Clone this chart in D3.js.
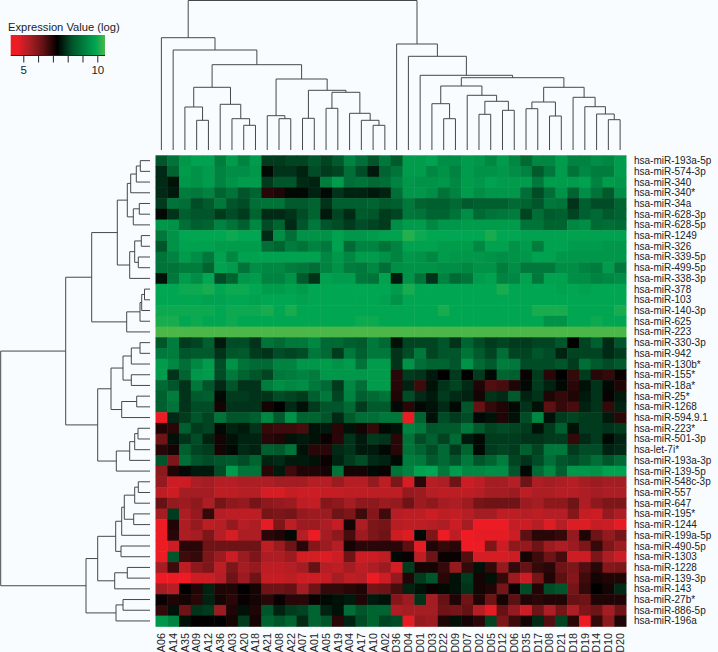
<!DOCTYPE html>
<html>
<head>
<meta charset="utf-8">
<script src="https://cdnjs.cloudflare.com/ajax/libs/d3/7.8.5/d3.min.js"></script>
<style>
    html, body { margin: 0; padding: 0; background: #f8fcff; overflow: hidden; }
    text { font-family: "Liberation Sans", Arial, sans-serif; fill: #222; }
</style>
</head>
<body>
<div id="chart-area"></div>
<script>
// =====================================================
// miRNA expression heatmap with row and column dendrograms
// =====================================================

const samples = ['A06','A14','A35','A09','A12','A36','A03','A20','A18','A21','A08','A22','A07','A01','A05','A19','A04','A17','A10','A02',
    'D36','D04','D01','D03','D22','D09','D07','D02','D05','D12','D06','D35','D17','D08','D21','D18','D19','D14','D10','D20'];

const miRNAs = ['hsa-miR-193a-5p','hsa-miR-574-3p','hsa-miR-340','hsa-miR-340*','hsa-miR-34a','hsa-miR-628-3p','hsa-miR-628-5p','hsa-miR-1249',
    'hsa-miR-326','hsa-miR-339-5p','hsa-miR-499-5p','hsa-miR-338-3p','hsa-miR-378','hsa-miR-103','hsa-miR-140-3p','hsa-miR-625','hsa-miR-223',
    'hsa-miR-330-3p','hsa-miR-942','hsa-miR-130b*','hsa-miR-155*','hsa-miR-18a*','hsa-miR-25*','hsa-miR-1268','hsa-miR-594.9.1','hsa-miR-223*',
    'hsa-miR-501-3p','hsa-let-7i*','hsa-miR-193a-3p','hsa-miR-139-5p','hsa-miR-548c-3p','hsa-miR-557','hsa-miR-647','hsa-miR-195*','hsa-miR-1244',
    'hsa-miR-199a-5p','hsa-miR-490-5p','hsa-miR-1303','hsa-miR-1228','hsa-miR-139-3p','hsa-miR-143','hsa-miR-27b*','hsa-miR-886-5p','hsa-miR-196a'];

// log expression, one list per miRNA, same order as samples
const r01 = [8.3,8.9,9.6,9.8,9.8,9.1,9.7,9.2,9.7,8.0,8.0,8.1,8.1,8.3,8.1,8.4,9.2,8.8,8.3,9.0, 8.4,9.7,9.7,9.8,9.4,9.4,9.7,9.6,9.3,9.7,9.3,8.7,9.3,9.3,9.7,9.2,9.2,9.4,9.3,9.7];
const r02 = [7.8,8.6,9.7,9.5,9.7,9.2,9.4,9.4,9.6,7.4,7.9,7.9,7.7,8.2,8.0,8.1,8.8,8.2,7.6,8.6, 8.9,9.7,9.7,9.3,9.5,9.2,9.7,9.5,9.5,9.6,9.4,9.2,8.4,9.0,9.7,8.9,9.3,9.1,9.1,9.7];
const r03 = [7.8,7.5,9.6,9.5,9.7,9.2,9.5,9.7,9.7,8.0,8.3,8.3,7.8,7.7,9.1,9.7,8.8,8.9,8.7,8.8, 9.2,9.6,9.5,9.5,9.6,9.3,9.7,9.6,9.8,9.7,9.7,9.7,9.0,9.7,9.7,9.7,9.8,9.2,9.7,9.6];
const r04 = [7.8,7.6,9.1,9.0,9.2,8.6,8.9,8.3,8.6,6.9,7.0,7.4,7.4,7.7,7.4,7.9,7.7,7.7,7.6,7.7, 8.8,9.6,9.6,9.4,8.9,9.2,9.7,9.4,9.6,9.6,9.6,8.8,8.2,8.8,9.5,8.6,9.4,8.9,8.4,9.4];
const r05 = [8.0,8.9,8.8,8.2,8.4,9.0,8.3,8.2,8.8,8.9,8.9,8.4,8.4,8.6,7.9,8.5,8.5,8.5,8.6,8.4, 8.5,9.0,8.6,8.5,8.5,8.7,8.4,8.5,8.5,8.5,8.7,8.6,8.3,9.0,8.9,7.9,8.5,8.2,8.2,8.6];
const r06 = [7.4,7.9,8.5,8.3,8.3,8.0,8.2,8.0,8.6,7.8,7.8,7.9,8.2,8.6,7.6,8.1,7.8,8.4,8.3,8.0, 8.1,9.0,8.9,8.6,8.6,8.9,9.4,8.7,8.9,9.0,9.1,8.1,8.8,8.4,8.5,8.1,8.5,8.7,8.4,8.6];
const r07 = [9.6,9.5,8.8,8.5,8.6,9.2,8.9,8.5,9.3,8.2,8.6,7.8,8.3,9.0,8.3,8.2,8.0,8.2,8.1,8.0, 9.4,9.7,9.7,9.3,9.6,9.6,9.7,9.7,9.7,9.7,9.7,8.9,8.9,8.6,8.6,9.3,9.4,8.7,8.8,8.7];
const r08 = [9.0,9.5,9.9,9.9,9.9,9.9,10.0,9.9,9.9,7.8,9.4,8.8,9.5,9.5,9.5,9.8,9.6,9.6,9.7,9.8, 9.8,10.2,10.0,9.9,9.9,9.9,9.9,9.9,10.1,9.9,9.9,9.8,9.8,9.8,9.8,9.8,9.8,9.8,9.8,9.8];
const r09 = [8.3,9.5,9.8,9.8,9.8,9.7,9.7,9.7,9.7,8.8,8.6,9.1,8.9,9.2,9.0,9.8,8.7,9.2,9.2,8.9, 9.2,9.8,9.8,9.8,9.7,9.7,9.7,9.3,9.8,9.8,9.5,9.7,9.1,9.8,9.8,9.7,9.7,9.7,9.6,9.6];
const r10 = [8.9,9.2,9.7,9.4,9.0,9.8,9.3,9.8,9.8,9.8,9.8,9.8,9.8,9.8,9.3,9.6,9.3,9.7,9.7,9.5, 9.2,9.6,9.5,9.3,9.7,9.6,9.6,9.6,9.5,9.4,9.5,9.6,9.8,9.8,9.6,9.6,9.6,9.6,9.6,9.6];
const r11 = [8.9,8.9,9.1,9.1,8.6,9.8,9.7,8.9,9.4,9.3,9.3,9.1,9.0,8.8,9.2,9.5,9.1,9.0,9.3,8.8, 9.4,9.5,9.5,9.5,9.4,9.4,9.3,9.5,9.5,9.1,9.4,9.0,9.0,9.0,9.4,9.4,9.2,9.1,9.7,9.0];
const r12 = [7.5,9.0,9.7,9.4,9.9,8.2,8.6,9.6,9.7,9.2,9.2,9.5,8.4,7.9,9.8,9.7,9.7,9.0,8.9,9.8, 7.6,9.5,8.9,7.9,9.2,8.7,8.9,9.7,9.8,9.2,9.3,9.8,9.0,9.8,9.8,9.4,9.4,9.2,9.3,9.4];
const r13 = [9.9,9.9,10.0,10.0,10.1,9.9,10.0,10.0,9.9,9.7,9.7,9.8,9.7,9.9,9.9,9.9,9.9,9.9,9.9,9.9, 9.7,10.1,9.9,9.9,9.9,9.9,9.9,9.9,9.9,10.1,9.9,9.9,9.9,9.9,9.8,9.9,9.8,9.9,9.9,9.9];
const r14 = [9.9,9.9,9.9,9.9,9.8,9.8,9.9,9.9,9.8,9.9,9.9,9.9,9.8,9.9,9.9,9.9,9.9,9.9,9.9,9.8, 9.5,9.9,9.9,9.9,9.9,9.9,9.9,9.9,9.9,9.9,9.9,9.9,9.9,9.9,9.9,9.9,9.9,9.9,9.9,9.9];
const r15 = [10.0,10.0,10.0,10.0,10.0,9.9,10.0,10.0,10.0,10.1,9.9,10.1,9.9,9.9,9.9,9.9,9.9,9.9,9.9,9.9, 9.9,9.9,9.9,9.9,10.1,9.9,9.9,9.9,9.9,9.9,9.9,9.9,10.1,10.1,10.1,9.9,9.9,9.9,9.9,10.1];
const r16 = [10.1,10.1,9.9,10.0,9.9,9.9,10.0,9.9,9.9,9.9,9.9,9.9,9.9,9.9,9.9,9.9,9.9,10.0,10.0,9.9, 9.9,9.9,9.9,9.9,9.9,9.9,9.9,9.9,9.9,9.9,9.9,9.9,9.9,9.5,9.5,9.9,9.9,10.0,9.9,9.9];
const r17 = [10.5,10.5,10.5,10.5,10.5,10.5,10.5,10.5,10.5,10.5,10.5,10.5,10.5,10.5,10.5,10.5,10.5,10.5,10.5,10.5, 10.5,10.5,10.5,10.5,10.5,10.5,10.5,10.5,10.5,10.5,10.5,10.5,10.5,10.5,10.5,10.5,10.5,10.5,10.5,10.5];
const r18 = [8.3,9.1,8.0,8.1,8.5,7.6,8.2,8.2,7.9,8.9,8.7,9.0,9.0,9.3,8.7,8.7,8.5,8.4,9.0,8.7, 7.5,8.1,8.1,8.1,8.3,7.9,8.6,8.2,8.0,8.1,8.0,8.0,8.1,8.1,8.3,7.3,8.1,8.5,7.8,8.3];
const r19 = [9.0,9.1,8.3,8.4,8.4,7.9,8.3,8.4,8.0,7.9,8.2,8.1,8.2,9.0,8.7,8.0,9.0,8.5,9.0,9.0, 7.9,8.2,9.0,8.1,8.3,8.3,8.9,8.4,8.1,8.8,8.1,8.1,8.3,8.2,7.7,8.1,8.1,8.1,7.8,8.0];
const r20 = [9.7,9.3,8.8,9.3,9.7,8.2,9.5,8.9,8.7,8.7,9.2,9.2,9.6,9.6,9.7,9.5,9.7,8.9,9.7,9.7, 7.9,9.5,8.8,8.6,8.6,8.3,9.5,8.7,8.4,9.1,9.0,8.2,8.2,8.2,8.3,8.0,8.8,8.4,8.2,8.4];
const r21 = [9.7,7.9,8.6,9.6,9.7,8.2,9.0,8.6,8.3,8.1,9.0,9.1,9.2,9.1,9.6,9.6,9.6,9.6,9.7,9.7, 6.9,8.0,7.9,7.6,7.3,8.0,7.3,8.0,7.4,8.6,8.5,7.2,8.0,6.9,7.3,6.8,8.0,6.9,6.8,7.2];
const r22 = [8.7,8.3,7.9,9.0,8.3,7.8,8.3,7.9,7.9,9.1,9.4,9.3,9.4,9.0,8.7,8.0,9.3,8.8,9.7,9.7, 6.9,7.7,6.7,7.5,7.9,8.1,7.8,7.0,6.5,6.6,7.0,7.4,8.0,7.7,7.4,6.9,7.5,7.9,7.4,7.0];
const r23 = [8.5,9.1,7.9,8.4,8.5,7.4,8.0,8.0,7.9,7.9,8.2,8.1,8.0,8.5,9.0,8.1,9.2,8.5,8.7,8.9, 7.0,8.2,7.8,7.6,8.0,7.8,7.7,7.1,7.9,7.8,8.4,7.7,7.9,7.0,6.8,7.0,7.6,7.9,7.2,7.6];
const r24 = [8.5,8.9,7.9,8.2,8.2,7.1,7.9,7.9,7.9,7.1,7.3,7.8,7.5,8.0,8.3,8.3,8.7,8.0,8.4,8.4, 7.4,6.9,7.4,7.5,7.8,7.4,8.3,6.3,6.8,7.0,7.4,7.9,7.5,6.4,6.8,6.6,7.7,7.9,6.8,7.7];
const r25 = [4.4,7.8,8.0,8.3,8.1,8.9,8.3,8.3,8.5,9.3,8.4,9.5,8.6,8.6,8.3,7.8,8.4,8.8,8.8,9.0, 9.0,4.6,8.6,7.5,8.2,8.0,8.2,7.4,7.5,7.0,7.5,8.2,9.3,7.5,8.0,8.1,8.0,8.0,7.6,6.9];
const r26 = [7.0,6.9,8.5,8.0,8.1,7.4,7.7,7.6,7.9,6.8,6.7,6.7,6.6,7.5,7.6,6.9,7.5,7.1,6.8,7.4, 7.5,9.2,9.0,8.3,8.4,8.4,9.0,8.4,8.1,8.2,8.1,8.0,7.5,8.0,8.5,7.5,8.0,8.0,7.9,8.0];
const r27 = [6.2,7.5,7.9,8.2,7.7,7.1,7.5,7.7,7.7,6.9,7.0,7.5,7.6,7.5,7.2,6.9,7.9,7.6,8.0,7.9, 6.9,8.9,8.2,8.5,8.1,8.7,7.6,7.4,8.0,8.0,8.0,7.9,7.9,8.0,8.0,6.8,7.8,8.0,7.4,7.7];
const r28 = [6.9,7.1,8.5,8.1,8.0,7.1,7.4,7.8,7.7,8.5,8.4,8.9,7.5,6.9,6.9,7.8,7.9,7.6,7.6,7.4, 6.9,8.9,8.6,8.2,8.7,8.0,8.6,7.4,8.0,8.1,8.0,8.5,8.1,9.0,9.0,8.0,8.2,8.2,7.7,7.8];
const r29 = [8.3,6.0,8.8,8.3,8.2,8.3,8.4,8.2,8.6,7.7,7.8,7.6,7.6,7.5,7.2,7.7,8.0,8.2,7.8,7.7, 7.4,9.1,9.0,8.4,8.7,8.3,9.0,8.3,8.6,9.1,8.1,7.9,8.2,8.8,8.3,8.2,8.4,8.8,8.3,8.7];
const r30 = [5.8,7.0,7.4,7.6,7.6,8.2,9.7,8.9,8.9,6.9,7.6,6.7,7.0,7.0,7.1,8.9,7.1,7.1,7.4,7.2, 8.9,9.2,9.8,9.9,9.0,9.7,9.3,9.3,9.4,9.4,8.3,7.4,8.7,9.3,8.5,9.6,9.6,9.5,9.8,9.8];
const r31 = [5.7,5.0,5.0,5.4,5.5,5.3,5.3,5.4,5.4,5.4,5.5,5.5,5.5,5.3,5.3,5.6,5.3,5.3,5.7,5.2, 6.0,4.9,6.9,5.3,5.4,6.2,5.0,5.2,5.5,5.5,5.3,6.2,5.4,5.5,5.4,5.3,5.5,5.6,5.5,5.5];
const r32 = [5.2,5.0,5.5,5.5,5.5,5.2,5.2,5.3,5.3,4.9,4.9,5.1,5.0,5.0,5.1,5.1,5.2,5.2,5.2,5.2, 5.2,5.7,5.6,5.3,5.2,5.2,5.2,5.3,5.5,5.5,5.6,5.2,5.4,5.4,5.3,5.3,5.4,5.5,5.4,5.4];
const r33 = [6.3,5.7,5.6,5.8,5.4,6.1,5.8,5.7,6.1,5.8,5.7,5.6,5.2,5.1,5.9,5.8,5.5,5.8,5.8,5.6, 5.7,6.2,5.6,5.8,5.5,5.4,5.6,6.1,6.2,6.2,6.2,5.6,5.5,5.8,5.8,6.2,5.4,5.8,6.0,6.0];
const r34 = [5.5,8.0,5.4,5.7,6.8,5.3,5.2,5.2,5.2,6.1,6.0,6.1,5.7,5.6,5.6,6.2,6.0,6.7,5.9,6.7, 5.3,5.2,5.2,5.0,5.2,5.1,5.3,5.5,5.5,5.2,5.2,5.3,5.2,5.3,5.3,5.9,5.1,5.0,5.7,5.4];
const r35 = [4.5,7.0,5.4,5.7,5.2,5.3,5.7,5.3,5.4,4.7,6.0,5.2,5.6,5.6,5.4,5.1,7.1,5.4,6.0,6.1, 5.3,5.2,5.2,5.3,5.4,5.0,5.5,4.6,4.6,4.6,5.1,5.0,5.3,4.8,5.3,4.8,4.8,5.1,5.0,4.7];
const r36 = [4.5,6.9,5.4,5.5,6.0,5.3,4.9,5.4,5.4,6.9,7.0,7.4,5.3,4.6,5.5,5.8,6.6,5.6,6.0,6.2, 5.0,4.8,7.4,6.0,4.6,5.2,4.6,4.7,4.7,4.7,5.0,6.4,6.9,6.9,6.8,5.7,7.0,6.2,5.7,6.1];
const r37 = [4.6,5.0,6.9,6.9,6.2,6.2,6.2,6.2,6.2,5.2,5.6,6.2,6.9,5.9,5.6,5.3,7.1,6.9,6.9,6.9, 6.9,6.4,4.7,7.0,6.8,6.9,4.6,4.6,6.0,5.0,5.8,5.7,6.2,5.6,5.4,5.6,6.0,6.8,6.0,5.6];
const r38 = [4.6,8.3,6.7,6.8,6.0,5.6,5.0,5.6,6.0,5.4,5.4,5.6,4.9,4.9,4.8,5.0,6.2,5.0,5.0,5.2, 7.4,7.2,5.2,6.2,7.2,7.2,6.5,4.9,4.9,4.9,5.0,7.1,6.7,6.2,6.6,5.0,5.0,6.0,5.4,5.0];
const r39 = [5.5,6.7,5.2,5.8,6.0,5.2,6.0,5.5,5.7,5.2,5.2,5.3,5.5,6.3,5.3,5.2,5.5,5.2,5.4,5.6, 4.9,8.0,7.1,7.1,6.8,5.7,6.8,7.5,6.8,5.7,6.8,6.3,6.8,6.9,6.2,6.0,6.5,6.9,5.9,6.0];
const r40 = [4.6,4.5,4.5,5.0,5.0,5.3,6.2,5.6,6.2,5.1,5.1,5.2,5.0,5.0,5.1,5.5,5.2,5.3,4.6,5.0, 5.7,7.0,8.0,8.3,6.9,7.5,8.0,7.1,7.5,6.8,5.6,5.0,6.1,7.0,6.4,5.9,6.7,7.1,7.0,7.0];
const r41 = [5.5,5.3,7.3,7.0,7.7,7.0,7.0,7.3,7.1,6.2,6.2,6.3,5.5,6.2,6.8,6.8,6.9,7.0,6.1,6.2, 6.6,7.7,7.5,7.2,7.4,7.5,7.9,7.1,7.0,6.1,7.2,8.2,7.0,8.2,8.3,6.1,6.8,7.3,7.1,7.8];
const r42 = [7.2,7.0,7.1,6.9,7.7,7.1,6.9,7.2,7.1,6.9,7.2,6.9,6.9,7.2,7.4,7.5,7.6,7.0,7.6,7.5, 5.9,5.6,7.9,5.5,6.3,7.0,6.2,7.0,6.2,7.1,6.4,7.0,6.9,7.0,7.0,6.3,6.2,7.0,7.0,7.0];
const r43 = [6.8,7.5,6.2,7.9,8.0,5.6,7.0,7.5,7.0,8.3,7.7,8.0,8.1,8.6,7.7,7.5,8.8,8.3,8.6,8.6, 5.4,5.5,5.5,5.5,6.2,6.1,6.3,5.3,4.7,6.3,5.7,5.0,6.2,5.4,6.1,5.4,6.0,6.2,5.5,6.2];
const r44 = [9.6,9.2,7.5,7.3,7.3,7.3,7.1,8.0,7.1,8.6,8.3,8.6,7.8,8.6,8.3,6.9,7.7,8.2,8.6,8.1, 8.2,4.7,5.7,5.6,7.0,7.5,7.1,6.9,8.1,6.0,6.7,7.1,7.8,6.5,8.1,6.9,4.5,6.8,5.8,7.0];

const expression = [r01,r02,r03,r04,r05,r06,r07,r08,r09,r10,r11,r12,r13,r14,r15,r16,r17,r18,r19,r20,r21,r22,
    r23,r24,r25,r26,r27,r28,r29,r30,r31,r32,r33,r34,r35,r36,r37,r38,r39,r40,r41,r42,r43,r44];

// dendrograms: [merge distance, child, child], a bare number is a leaf index
const sampleTree = [149.5,
    [112.3, 0,
        [100, 1,
            [85.3,
                [62.7, [43, 2, [29.7, 3, 4]], [45.7, 5, [31.3, 6, [24.7, 7, 8]]]],
                [71,
                    [34.3, 9, [31.3, 10, 11]],
                    [59.7,
                        [31.7, 12, 13],
                        [57.7, [41.7, 14, 15], [36.7, 16, [29.7, 17, [24.7, 18, 19]]]]]]]]],
    [106, 20,
        [93.7, 21,
            [74.7, 22,
                [72.3,
                    [64,
                        [46.3, 23, [31.3, 24, 25]],
                        [54.7, 26, [48.7, [35.7, 27, 28], [39.7, 29, 30]]]],
                    [62.7,
                        [48, [41.3, 31, 32], [34, 33, 34]],
                        [52.7, 35, [43.3, 36, [36, 37, [30.3, 38, 39]]]]]]]]]];

const miRNATree = [149.3,
    [84.3,
        [58.3,
            [32.7,
                [22.7, [19.3, [13.7, [9.7, 0, 1], 2], 3], [16.7, [10.7, 4, 5], 6]],
                [20.3, [15.3, [8.7, 7, 8], [11.7, 9, 10]], 11]],
            [23.3, [10, [8.3, [5.5, 12, 13], 14], 15], 16]],
        [52.3,
            [39,
                [27, [18.7, [10, 17, 18], 19], [18.7, 20, 21]],
                [28.3, [13.3, 22, 23], 24]],
            [33.7, [20.3, [15.3, [12, 25, 26], 27], 28], 29]]],
    [64,
        [52.3,
            [34.3,
                [28.3, [25.7, [15.3, [11.7, 30, 31], 32], [16.3, 33, 34]], 35],
                [29, 36, 37]],
            [35.3, [22.7, 38, 39], 40]],
        [34, [27, 41, 42], 43]]];

const legendTicks = [5, 6, 7, 8, 9, 10];
const legendTickLabels = [5, 10];
const colorStops = [4.15, 4.6, 5.4, 6.3, 7.3, 8.3, 9.9, 10.52];
const colorRange = ['#ed1c24', '#ed1c24', '#ac1e24', '#661214', '#000000', '#00552a', '#00a651', '#4db848'];

const width = 718;
const height = 652;
const lineColor = '#44484a';

const svg = d3.select('#chart-area')
    .append('svg')
    .attr('width', width)
    .attr('height', height)
    .attr('viewBox', `0 0 ${width} ${height}`);

const color = d3.scaleLinear().domain(colorStops).range(colorRange).clamp(true);

const x = d3.scaleBand().domain(samples).range([155.5, 626]);
const y = d3.scaleBand().domain(miRNAs).range([155.3, 626.3]);

// Heatmap cells
const cells = expression.flatMap((row, i) => row.map((v, j) => ({ miRNA: miRNAs[i], sample: samples[j], value: v })));

svg.append('g')
    .attr('class', 'cells')
    .selectAll('rect')
    .data(cells)
    .join('rect')
    .attr('x', d => x(d.sample))
    .attr('y', d => y(d.miRNA))
    .attr('width', x.bandwidth() + 0.5)
    .attr('height', y.bandwidth() + 0.5)
    .attr('fill', d => color(d.value));

// Row labels
svg.append('g')
    .selectAll('text')
    .data(miRNAs)
    .join('text')
    .attr('x', 634)
    .attr('y', d => y(d) + y.bandwidth() / 2)
    .attr('dy', '0.35em')
    .attr('font-size', 10)
    .text(d => d);

// Column labels
svg.append('g')
    .selectAll('text')
    .data(samples)
    .join('text')
    .attr('transform', d => `translate(${x(d) + x.bandwidth() / 2}, 633) rotate(-90)`)
    .attr('dy', '0.35em')
    .attr('text-anchor', 'end')
    .attr('font-size', 10.8)
    .text(d => d);

// Walk a tree and collect the U shaped links, leaves sit at their band centre
function treeLinks(node, leafPos, links) {
    if (typeof node === 'number') return { pos: leafPos(node), dist: 0 };
    const a = treeLinks(node[1], leafPos, links);
    const b = treeLinks(node[2], leafPos, links);
    links.push({ a, b, dist: node[0] });
    return { pos: (a.pos + b.pos) / 2, dist: node[0] };
}

const sampleLinks = [];
treeLinks(sampleTree, i => x(samples[i]) + x.bandwidth() / 2, sampleLinks);
const sampleDist = d3.scaleLinear().domain([0, 150]).range([150, 0]);

svg.append('g')
    .selectAll('path')
    .data(sampleLinks)
    .join('path')
    .attr('fill', 'none')
    .attr('stroke', lineColor)
    .attr('d', d => d3.line()([
        [d.a.pos, sampleDist(d.a.dist)],
        [d.a.pos, sampleDist(d.dist)],
        [d.b.pos, sampleDist(d.dist)],
        [d.b.pos, sampleDist(d.b.dist)]
    ]));

const miRNALinks = [];
treeLinks(miRNATree, i => y(miRNAs[i]) + y.bandwidth() / 2, miRNALinks);
const miRNADist = d3.scaleLinear().domain([0, 150]).range([150, 0]);

svg.append('g')
    .selectAll('path')
    .data(miRNALinks)
    .join('path')
    .attr('fill', 'none')
    .attr('stroke', lineColor)
    .attr('d', d => d3.line()([
        [miRNADist(d.a.dist), d.a.pos],
        [miRNADist(d.dist), d.a.pos],
        [miRNADist(d.dist), d.b.pos],
        [miRNADist(d.b.dist), d.b.pos]
    ]));

// Colour key
const legendScale = d3.scaleLinear()
    .domain([4.15, 10.52])
    .range([10.7, 105]);

const gradient = svg.append('defs')
    .append('linearGradient')
    .attr('id', 'key-gradient');

gradient.selectAll('stop')
    .data(colorStops)
    .join('stop')
    .attr('offset', d => (d - colorStops[0]) / (colorStops[colorStops.length - 1] - colorStops[0]))
    .attr('stop-color', d => color(d));

svg.append('rect')
    .attr('x', legendScale.range()[0])
    .attr('y', 35)
    .attr('width', legendScale.range()[1] - legendScale.range()[0])
    .attr('height', 20)
    .attr('fill', 'url(#key-gradient)');

const legendAxis = d3.axisBottom(legendScale)
    .tickValues(legendTicks)
    .tickSize(7)
    .tickPadding(3)
    .tickFormat(d => legendTickLabels.includes(d) ? d : '');

const legendG = svg.append('g')
    .attr('transform', 'translate(0, 55.5)')
    .call(legendAxis);

legendG.select('.domain').attr('stroke', '#222').attr('d', `M${legendScale.range()[0]},0H${legendScale.range()[1]}`);
legendG.selectAll('.tick line').attr('stroke', '#222');
legendG.selectAll('.tick text').attr('font-size', 11.5).attr('font-family', null);

svg.append('text')
    .attr('x', 8)
    .attr('y', 31)
    .attr('font-size', 11.2)
    .text('Expression Value (log)');
</script>
</body>
</html>
